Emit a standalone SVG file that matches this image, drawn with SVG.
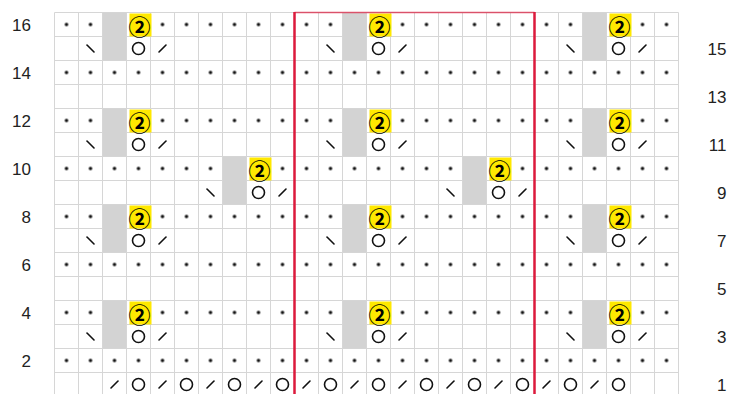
<svg xmlns="http://www.w3.org/2000/svg" xmlns:xlink="http://www.w3.org/1999/xlink" width="729" height="394" viewBox="0 0 729 394">
<style>
.lbl{font-family:"Liberation Sans",Arial,sans-serif;font-size:17px;fill:#222;}
.grid{fill:none;stroke:#d6d6d6;stroke-width:1;}
.gray{fill:#d3d3d3;}
.yel{fill:#ffe800;}
.two{font-family:"Noto Sans CJK JP","DejaVu Sans",sans-serif;font-weight:bold;font-size:22px;fill:#000;text-anchor:middle;dominant-baseline:central;}
.sym{fill:none;stroke:#111;stroke-width:1.6;stroke-linecap:round;}
.red{stroke:#dc1a3c;fill:none;}
</style>
<defs>
<pattern id="dotpat" patternUnits="userSpaceOnUse" x="54.5" y="12.5" width="24" height="24">
<circle cx="12" cy="12" r="1.8" fill="#111"/>
</pattern>
<path id="bs" class="sym" d="M-3.5,-3.5L3.5,3.5"/>
<path id="fs" class="sym" d="M-3.5,3.5L3.5,-3.5"/>
<circle id="o" class="sym" r="6"/>
</defs>
<rect width="729" height="394" fill="#fff"/>
<g id="dots">
<rect x="54.5" y="12.5" width="624" height="24" fill="url(#dotpat)"/>
<rect x="54.5" y="60.5" width="624" height="24" fill="url(#dotpat)"/>
<rect x="54.5" y="108.5" width="624" height="24" fill="url(#dotpat)"/>
<rect x="54.5" y="156.5" width="624" height="24" fill="url(#dotpat)"/>
<rect x="54.5" y="204.5" width="624" height="24" fill="url(#dotpat)"/>
<rect x="54.5" y="252.5" width="624" height="24" fill="url(#dotpat)"/>
<rect x="54.5" y="300.5" width="624" height="24" fill="url(#dotpat)"/>
<rect x="54.5" y="348.5" width="624" height="24" fill="url(#dotpat)"/>
</g>
<path id="grid" class="grid" d="M54.5 12.5V394M78.5 12.5V394M102.5 12.5V394M126.5 12.5V394M150.5 12.5V394M174.5 12.5V394M198.5 12.5V394M222.5 12.5V394M246.5 12.5V394M270.5 12.5V394M294.5 12.5V394M318.5 12.5V394M342.5 12.5V394M366.5 12.5V394M390.5 12.5V394M414.5 12.5V394M438.5 12.5V394M462.5 12.5V394M486.5 12.5V394M510.5 12.5V394M534.5 12.5V394M558.5 12.5V394M582.5 12.5V394M606.5 12.5V394M630.5 12.5V394M654.5 12.5V394M678.5 12.5V394M54.5 12.5H678.5M54.5 36.5H678.5M54.5 60.5H678.5M54.5 84.5H678.5M54.5 108.5H678.5M54.5 132.5H678.5M54.5 156.5H678.5M54.5 180.5H678.5M54.5 204.5H678.5M54.5 228.5H678.5M54.5 252.5H678.5M54.5 276.5H678.5M54.5 300.5H678.5M54.5 324.5H678.5M54.5 348.5H678.5M54.5 372.5H678.5"/>
<g id="graycells">
<rect class="gray" x="103" y="12.5" width="23" height="48"/>
<rect class="gray" x="343" y="12.5" width="23" height="48"/>
<rect class="gray" x="583" y="12.5" width="23" height="48"/>
<rect class="gray" x="103" y="108.5" width="23" height="48"/>
<rect class="gray" x="343" y="108.5" width="23" height="48"/>
<rect class="gray" x="583" y="108.5" width="23" height="48"/>
<rect class="gray" x="223" y="156.5" width="23" height="48"/>
<rect class="gray" x="463" y="156.5" width="23" height="48"/>
<rect class="gray" x="103" y="204.5" width="23" height="48"/>
<rect class="gray" x="343" y="204.5" width="23" height="48"/>
<rect class="gray" x="583" y="204.5" width="23" height="48"/>
<rect class="gray" x="103" y="300.5" width="23" height="48"/>
<rect class="gray" x="343" y="300.5" width="23" height="48"/>
<rect class="gray" x="583" y="300.5" width="23" height="48"/>
</g>
<g id="twos">
<rect class="yel" x="129.5" y="13.5" width="22" height="23"/><text class="two" x="139.5" y="24.5">②</text>
<rect class="yel" x="369.5" y="13.5" width="22" height="23"/><text class="two" x="379.5" y="24.5">②</text>
<rect class="yel" x="609.5" y="13.5" width="22" height="23"/><text class="two" x="619.5" y="24.5">②</text>
<rect class="yel" x="129.5" y="109.5" width="22" height="23"/><text class="two" x="139.5" y="120.5">②</text>
<rect class="yel" x="369.5" y="109.5" width="22" height="23"/><text class="two" x="379.5" y="120.5">②</text>
<rect class="yel" x="609.5" y="109.5" width="22" height="23"/><text class="two" x="619.5" y="120.5">②</text>
<rect class="yel" x="249.5" y="157.5" width="22" height="23"/><text class="two" x="259.5" y="168.5">②</text>
<rect class="yel" x="489.5" y="157.5" width="22" height="23"/><text class="two" x="499.5" y="168.5">②</text>
<rect class="yel" x="129.5" y="205.5" width="22" height="23"/><text class="two" x="139.5" y="216.5">②</text>
<rect class="yel" x="369.5" y="205.5" width="22" height="23"/><text class="two" x="379.5" y="216.5">②</text>
<rect class="yel" x="609.5" y="205.5" width="22" height="23"/><text class="two" x="619.5" y="216.5">②</text>
<rect class="yel" x="129.5" y="301.5" width="22" height="23"/><text class="two" x="139.5" y="312.5">②</text>
<rect class="yel" x="369.5" y="301.5" width="22" height="23"/><text class="two" x="379.5" y="312.5">②</text>
<rect class="yel" x="609.5" y="301.5" width="22" height="23"/><text class="two" x="619.5" y="312.5">②</text>
</g>
<g id="decreases">
<use xlink:href="#bs" x="90.5" y="48.5"/><use xlink:href="#o" x="138.5" y="48.5"/><use xlink:href="#fs" x="162.5" y="48.5"/>
<use xlink:href="#bs" x="330.5" y="48.5"/><use xlink:href="#o" x="378.5" y="48.5"/><use xlink:href="#fs" x="402.5" y="48.5"/>
<use xlink:href="#bs" x="570.5" y="48.5"/><use xlink:href="#o" x="618.5" y="48.5"/><use xlink:href="#fs" x="642.5" y="48.5"/>
<use xlink:href="#bs" x="90.5" y="144.5"/><use xlink:href="#o" x="138.5" y="144.5"/><use xlink:href="#fs" x="162.5" y="144.5"/>
<use xlink:href="#bs" x="330.5" y="144.5"/><use xlink:href="#o" x="378.5" y="144.5"/><use xlink:href="#fs" x="402.5" y="144.5"/>
<use xlink:href="#bs" x="570.5" y="144.5"/><use xlink:href="#o" x="618.5" y="144.5"/><use xlink:href="#fs" x="642.5" y="144.5"/>
<use xlink:href="#bs" x="210.5" y="192.5"/><use xlink:href="#o" x="258.5" y="192.5"/><use xlink:href="#fs" x="282.5" y="192.5"/>
<use xlink:href="#bs" x="450.5" y="192.5"/><use xlink:href="#o" x="498.5" y="192.5"/><use xlink:href="#fs" x="522.5" y="192.5"/>
<use xlink:href="#bs" x="90.5" y="240.5"/><use xlink:href="#o" x="138.5" y="240.5"/><use xlink:href="#fs" x="162.5" y="240.5"/>
<use xlink:href="#bs" x="330.5" y="240.5"/><use xlink:href="#o" x="378.5" y="240.5"/><use xlink:href="#fs" x="402.5" y="240.5"/>
<use xlink:href="#bs" x="570.5" y="240.5"/><use xlink:href="#o" x="618.5" y="240.5"/><use xlink:href="#fs" x="642.5" y="240.5"/>
<use xlink:href="#bs" x="90.5" y="336.5"/><use xlink:href="#o" x="138.5" y="336.5"/><use xlink:href="#fs" x="162.5" y="336.5"/>
<use xlink:href="#bs" x="330.5" y="336.5"/><use xlink:href="#o" x="378.5" y="336.5"/><use xlink:href="#fs" x="402.5" y="336.5"/>
<use xlink:href="#bs" x="570.5" y="336.5"/><use xlink:href="#o" x="618.5" y="336.5"/><use xlink:href="#fs" x="642.5" y="336.5"/>
</g>
<g id="row1">
<use xlink:href="#fs" x="114.5" y="384.5"/><use xlink:href="#o" x="138.5" y="384.5"/>
<use xlink:href="#fs" x="162.5" y="384.5"/><use xlink:href="#o" x="186.5" y="384.5"/>
<use xlink:href="#fs" x="210.5" y="384.5"/><use xlink:href="#o" x="234.5" y="384.5"/>
<use xlink:href="#fs" x="258.5" y="384.5"/><use xlink:href="#o" x="282.5" y="384.5"/>
<use xlink:href="#fs" x="306.5" y="384.5"/><use xlink:href="#o" x="330.5" y="384.5"/>
<use xlink:href="#fs" x="354.5" y="384.5"/><use xlink:href="#o" x="378.5" y="384.5"/>
<use xlink:href="#fs" x="402.5" y="384.5"/><use xlink:href="#o" x="426.5" y="384.5"/>
<use xlink:href="#fs" x="450.5" y="384.5"/><use xlink:href="#o" x="474.5" y="384.5"/>
<use xlink:href="#fs" x="498.5" y="384.5"/><use xlink:href="#o" x="522.5" y="384.5"/>
<use xlink:href="#fs" x="546.5" y="384.5"/><use xlink:href="#o" x="570.5" y="384.5"/>
<use xlink:href="#fs" x="594.5" y="384.5"/><use xlink:href="#o" x="618.5" y="384.5"/>
</g>
<g id="repeat">
<path class="red" stroke-width="1.5" stroke-opacity="0.7" d="M294.5 12.5H534.5"/>
<path class="red" stroke-width="2.5" d="M294.5 12V394M534.5 12V394"/>
</g>
<g id="labels-left" class="lbl" text-anchor="end">
<text x="31" y="31">16</text>
<text x="31" y="79">14</text>
<text x="31" y="127">12</text>
<text x="31" y="175">10</text>
<text x="31" y="223">8</text>
<text x="31" y="271">6</text>
<text x="31" y="319">4</text>
<text x="31" y="367">2</text>
</g>
<g id="labels-right" class="lbl" text-anchor="end">
<text x="726.5" y="55">15</text>
<text x="726.5" y="103">13</text>
<text x="726.5" y="151">11</text>
<text x="726.5" y="199">9</text>
<text x="726.5" y="247">7</text>
<text x="726.5" y="295">5</text>
<text x="726.5" y="343">3</text>
<text x="726.5" y="391">1</text>
</g>
</svg>
